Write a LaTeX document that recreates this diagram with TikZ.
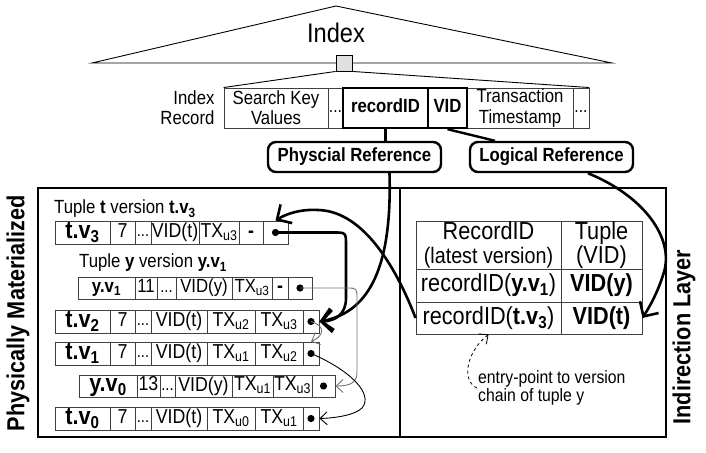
\documentclass[tikz,border=0pt]{standalone}
\usepackage{fontspec}
\setmainfont{Liberation Sans}[FakeStretch=0.88]
\usetikzlibrary{arrows.meta}

% sizes are given as widths of the plain font; the narrow face is set taller
\newcommand{\fsz}[2]{\fontsize{\fpeval{#1*1.12}}{\fpeval{#2*1.12}}\selectfont}
% one table cell between x1,x2 and ytop,ybot
\newcommand{\cell}[7][]{%
  \node[cellbox, minimum width={(#4-#3)*1pt}, minimum height={(#6-#5)*1pt}, #1]
    (#2) at ({(#3+#4)/2},{(#5+#6)/2}) {\vphantom{Ay}#7};}

\tikzset{
  cellbox/.style={draw=black!75, line width=0.9pt, inner sep=0pt, align=center, font=\fsz{18}{20}},
  keycell/.style={draw=black, line width=2.4pt, font=\bfseries\fsz{17}{19}},
  refbox/.style={draw, line width=2.4pt, rounded corners=8pt, inner sep=0pt, font=\bfseries\fsz{17}{19}},
  layerbox/.style={draw, line width=2.8pt, inner sep=0pt},
  layerlabel/.style={rotate=90, font=\bfseries\fsz{22}{24}},
  bigarrow/.style={line width=2.6pt, -{Straight Barb[length=11pt,width=22pt]}},
  thinarrow/.style={line width=0.9pt, -{Straight Barb[length=7pt,width=13pt]}},
}

\begin{document}
\begin{tikzpicture}[x=1pt, y=-1pt]
\useasboundingbox (0,0) rectangle (706,452);

% index tree
\draw[line width=0.9pt] (336,6) -- (612,63) -- (92,63) -- cycle;
\node[font=\fsz{24}{26}] (idxtitle) at (336,33) {Index};
\node[draw, line width=0.9pt, fill=black!12, minimum width=16pt, minimum height=16pt, inner sep=0pt] (idxkey) at (344,63) {};

% index record
\node[anchor=east, align=right, font=\fsz{17}{18}] (idxrec) at (218,108) {Index\\Record};
\cell[font=\fsz{17}{18}]{skv}{224}{328}{88}{128}{Search Key\\Values}
\cell[font=\fsz{16}{16}]{dotsa}{328}{343}{88}{128}{...}
\cell[font=\fsz{17}{18}]{txts}{467}{573}{88}{128}{Transaction\\Timestamp}
\cell[font=\fsz{16}{16}]{dotsb}{573}{589}{88}{128}{...}
\cell[keycell]{recid}{343}{428}{88}{128}{recordID}
\cell[keycell]{vid}{428}{467}{88}{128}{VID}
\draw[line width=0.9pt] (idxkey.south west) -- (skv.north west);
\draw[line width=0.9pt] (idxkey.south east) -- (dotsb.north east);

% references
\node[refbox, minimum width=173pt, minimum height=30pt] (physref) at (354.5,157) {Physcial Reference};
\node[refbox, minimum width=163pt, minimum height=30pt] (logref) at (551.5,157) {Logical Reference};
\draw[line width=2.4pt] (recid.south) -- (recid.south |- physref.north);
\draw[line width=2.4pt] (vid.south) -- (logref.164);

% layers
\node[layerbox, minimum width=362pt, minimum height=249pt] (matbox) at (219,312.5) {};
\node[layerbox, minimum width=266pt, minimum height=249pt] (indbox) at (533,312.5) {};
\node[layerlabel] (matlabel) at (18,313) {Physically Materialized};
\node[layerlabel] (indlabel) at (684,337) {Indirection Layer};

% version t.v3
\node[anchor=west, inner sep=0pt, font=\fsz{17}{19}] (tv3lab) at (54,209) {Tuple \textbf{t} version \textbf{t.v\textsubscript{3}}};
\cell[font=\bfseries\fsz{22}{24}]{tv3-n}{55}{110}{221}{244}{t.v\textsubscript{3}}
\cell{tv3-a}{110}{135}{221}{244}{7}
\cell[font=\fsz{15}{16}]{tv3-b}{135}{151}{221}{244}{...}
\cell{tv3-c}{151}{199}{221}{244}{VID(t)}
\cell{tv3-d}{199}{239}{221}{244}{TX\textsubscript{u3}}
\cell{tv3-e}{239}{263}{221}{244}{\textbf{-}}
\cell{tv3-p}{263}{288}{221}{244}{}

% version y.v1
\node[anchor=west, inner sep=0pt, font=\fsz{17}{19}] (yv1lab) at (79,263) {Tuple \textbf{y} version \textbf{y.v\textsubscript{1}}};
\cell[font=\bfseries\fsz{17}{19}]{yv1-n}{78}{135}{277}{299}{y.v\textsubscript{1}}
\cell[font=\fsz{17}{19}]{yv1-a}{135}{157}{277}{299}{11}
\cell[font=\fsz{15}{16}]{yv1-b}{157}{176}{277}{299}{...}
\cell[font=\fsz{17}{19}]{yv1-c}{176}{232}{277}{299}{VID(y)}
\cell[font=\fsz{17}{19}]{yv1-d}{232}{272}{277}{299}{TX\textsubscript{u3}}
\cell{yv1-e}{272}{288}{277}{299}{\textbf{-}}
\cell{yv1-p}{288}{312}{277}{299}{}

% versions t.v2, t.v1, t.v0
\foreach \nm/\yt/\vn/\txa/\txb in {tv2/310/2/u2/u3, tv1/342/1/u1/u2, tv0/407/0/u0/u1}{
  \pgfmathsetmacro\yb{\yt+23}
  \cell[font=\bfseries\fsz{22}{24}]{\nm-n}{55}{110}{\yt}{\yb}{t.v\textsubscript{\vn}}
  \cell{\nm-a}{110}{135}{\yt}{\yb}{7}
  \cell[font=\fsz{15}{16}]{\nm-b}{135}{151}{\yt}{\yb}{...}
  \cell{\nm-c}{151}{207}{\yt}{\yb}{VID(t)}
  \cell{\nm-d}{207}{255}{\yt}{\yb}{TX\textsubscript{\txa}}
  \cell{\nm-e}{255}{303}{\yt}{\yb}{TX\textsubscript{\txb}}
  \cell{\nm-p}{303}{319}{\yt}{\yb}{}
}

% version y.v0
\cell[font=\bfseries\fsz{22}{24}]{yv0-n}{79}{137}{375}{397}{y.v\textsubscript{0}}
\cell{yv0-a}{137}{160}{375}{397}{13}
\cell[font=\fsz{15}{16}]{yv0-b}{160}{175}{375}{397}{...}
\cell{yv0-c}{175}{232}{375}{397}{VID(y)}
\cell{yv0-d}{232}{273}{375}{397}{TX\textsubscript{u1}}
\cell{yv0-e}{273}{312}{375}{397}{TX\textsubscript{u3}}
\cell{yv0-p}{312}{335}{375}{397}{}

\foreach \dotcell in {tv3-p,yv1-p,tv2-p,tv1-p,yv0-p,tv0-p}
  \fill (\dotcell.center) circle (3.6pt);

% indirection table
\cell[font=\fsz{22}{21}]{rh-a}{416}{561}{221}{269}{RecordID\\{\fsz{20}{21}(latest version)}}
\cell[font=\fsz{22}{21}]{rh-b}{561}{642}{221}{269}{Tuple\\(VID)}
\cell[font=\fsz{22}{24}]{ry-a}{416}{561}{269}{302}{recordID(\textbf{y.v\textsubscript{1}})}
\cell[font=\bfseries\fsz{22}{24}]{ry-b}{561}{642}{269}{302}{VID(y)}
\cell[font=\fsz{22}{24}]{rt-a}{416}{561}{302}{334}{recordID(\textbf{t.v\textsubscript{3}})}
\cell[font=\bfseries\fsz{22}{24}]{rt-b}{561}{642}{302}{334}{VID(t)}

\node[anchor=west, align=left, inner sep=0pt, font=\fsz{16}{16}] (entry) at (478,388) {entry-point to version\\chain of tuple y};
\draw[thinarrow, dashed, line width=0.8pt] ([xshift=-1pt]entry.west) .. controls (460,380) and (468,350) .. (rt-a.south);

% thick references
\draw[bigarrow] ([xshift=35pt]physref.south) .. controls (392,262) and (372,312) .. (tv2-p.east);
\draw[bigarrow] (tv3-p.center) -- (334,232.5) .. controls (346,232.5) .. (346,246) -- (346,298) .. controls (346,314) and (336,321) .. (tv2-p.east);
\draw[bigarrow] (rt-a.west) .. controls (398,272) and (365,211) .. (318,210) .. controls (300,209) and (286,214) .. (tv3-p.north);
\draw[bigarrow] (logref.-24) .. controls (644,196) and (674,238) .. (664,272) .. controls (658,292) and (650,306) .. (rt-b.east);

% version chain
\draw[thinarrow, black!55] (yv1-p.center) -- (346,288) .. controls (357,288) .. (357,299) -- (357,372) .. controls (357,383) and (350,386) .. (yv0-p.east);
\draw[thinarrow, black!55] (tv2-p.center) .. controls (326,326) and (324,336) .. (tv1-p.north);
\draw[thinarrow] (tv1-p.center) .. controls (350,370) and (374,394) .. (362,408) .. controls (355,415) and (336,418) .. (tv0-p.east);
\end{tikzpicture}
\end{document}
